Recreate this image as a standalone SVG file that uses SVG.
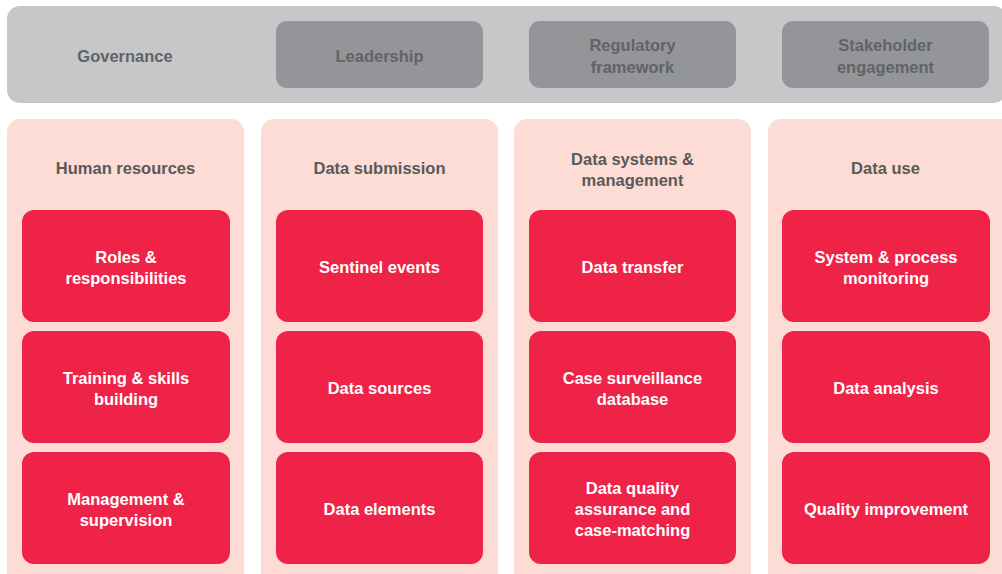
<svg xmlns="http://www.w3.org/2000/svg" width="1002" height="574" viewBox="0 0 1002 574">
<style>
.band{fill:#c6c7c9}
.gbox{fill:#939598}
.col{fill:#fcdcd5}
.rbox{fill:#ef2348}
text{font-family:"Liberation Sans",Arial,sans-serif;font-weight:bold;font-size:16.5px;text-anchor:middle}
.gt{fill:#626366}
.ht{fill:#58595b}
.wt{fill:#ffffff}
</style>
<rect width="1002" height="574" fill="#ffffff"/>
<g id="governance">
<rect class="band" x="7" y="6" width="1000" height="97" rx="13"/>
<text class="gt" x="125" y="62">Governance</text>
</g>
<g id="leadership">
<rect class="gbox" x="276" y="21" width="207" height="67" rx="11"/>
<text class="gt" x="379.5" y="62">Leadership</text>
</g>
<g id="regulatory">
<rect class="gbox" x="529" y="21" width="207" height="67" rx="11"/>
<text class="gt" x="632.5" y="51">Regulatory</text>
<text class="gt" x="632.5" y="73">framework</text>
</g>
<g id="stakeholder">
<rect class="gbox" x="782" y="21" width="207" height="67" rx="11"/>
<text class="gt" x="885.5" y="51">Stakeholder</text>
<text class="gt" x="885.5" y="73">engagement</text>
</g>
<g id="col-hr">
<rect class="col" x="7" y="119" width="237" height="470" rx="13"/>
<text class="ht" x="125.5" y="174">Human resources</text>
</g>
<g id="col-ds">
<rect class="col" x="261" y="119" width="237" height="470" rx="13"/>
<text class="ht" x="379.5" y="174">Data submission</text>
</g>
<g id="col-sys">
<rect class="col" x="514" y="119" width="237" height="470" rx="13"/>
<text class="ht" x="632.5" y="165">Data systems &amp;</text>
<text class="ht" x="632.5" y="186">management</text>
</g>
<g id="col-use">
<rect class="col" x="768" y="119" width="250" height="470" rx="13"/>
<text class="ht" x="885.5" y="174">Data use</text>
</g>
<g id="roles">
<rect class="rbox" x="22" y="210" width="208" height="112" rx="12"/>
<text class="wt" x="126" y="263">Roles &amp;</text>
<text class="wt" x="126" y="284">responsibilities</text>
</g>
<g id="training">
<rect class="rbox" x="22" y="331" width="208" height="112" rx="12"/>
<text class="wt" x="126" y="384">Training &amp; skills</text>
<text class="wt" x="126" y="405">building</text>
</g>
<g id="management">
<rect class="rbox" x="22" y="452" width="208" height="112" rx="12"/>
<text class="wt" x="126" y="505">Management &amp;</text>
<text class="wt" x="126" y="526">supervision</text>
</g>
<g id="sentinel">
<rect class="rbox" x="276" y="210" width="207" height="112" rx="12"/>
<text class="wt" x="379.5" y="273">Sentinel events</text>
</g>
<g id="sources">
<rect class="rbox" x="276" y="331" width="207" height="112" rx="12"/>
<text class="wt" x="379.5" y="394">Data sources</text>
</g>
<g id="elements">
<rect class="rbox" x="276" y="452" width="207" height="112" rx="12"/>
<text class="wt" x="379.5" y="515">Data elements</text>
</g>
<g id="transfer">
<rect class="rbox" x="529" y="210" width="207" height="112" rx="12"/>
<text class="wt" x="632.5" y="273">Data transfer</text>
</g>
<g id="casedb">
<rect class="rbox" x="529" y="331" width="207" height="112" rx="12"/>
<text class="wt" x="632.5" y="384">Case surveillance</text>
<text class="wt" x="632.5" y="405">database</text>
</g>
<g id="dq">
<rect class="rbox" x="529" y="452" width="207" height="112" rx="12"/>
<text class="wt" x="632.5" y="494">Data quality</text>
<text class="wt" x="632.5" y="515">assurance and</text>
<text class="wt" x="632.5" y="536">case-matching</text>
</g>
<g id="monitoring">
<rect class="rbox" x="782" y="210" width="208" height="112" rx="12"/>
<text class="wt" x="886" y="263">System &amp; process</text>
<text class="wt" x="886" y="284">monitoring</text>
</g>
<g id="analysis">
<rect class="rbox" x="782" y="331" width="208" height="112" rx="12"/>
<text class="wt" x="886" y="394">Data analysis</text>
</g>
<g id="qi">
<rect class="rbox" x="782" y="452" width="208" height="112" rx="12"/>
<text class="wt" x="886" y="515">Quality improvement</text>
</g>
<g id="connectors"/>
</svg>
